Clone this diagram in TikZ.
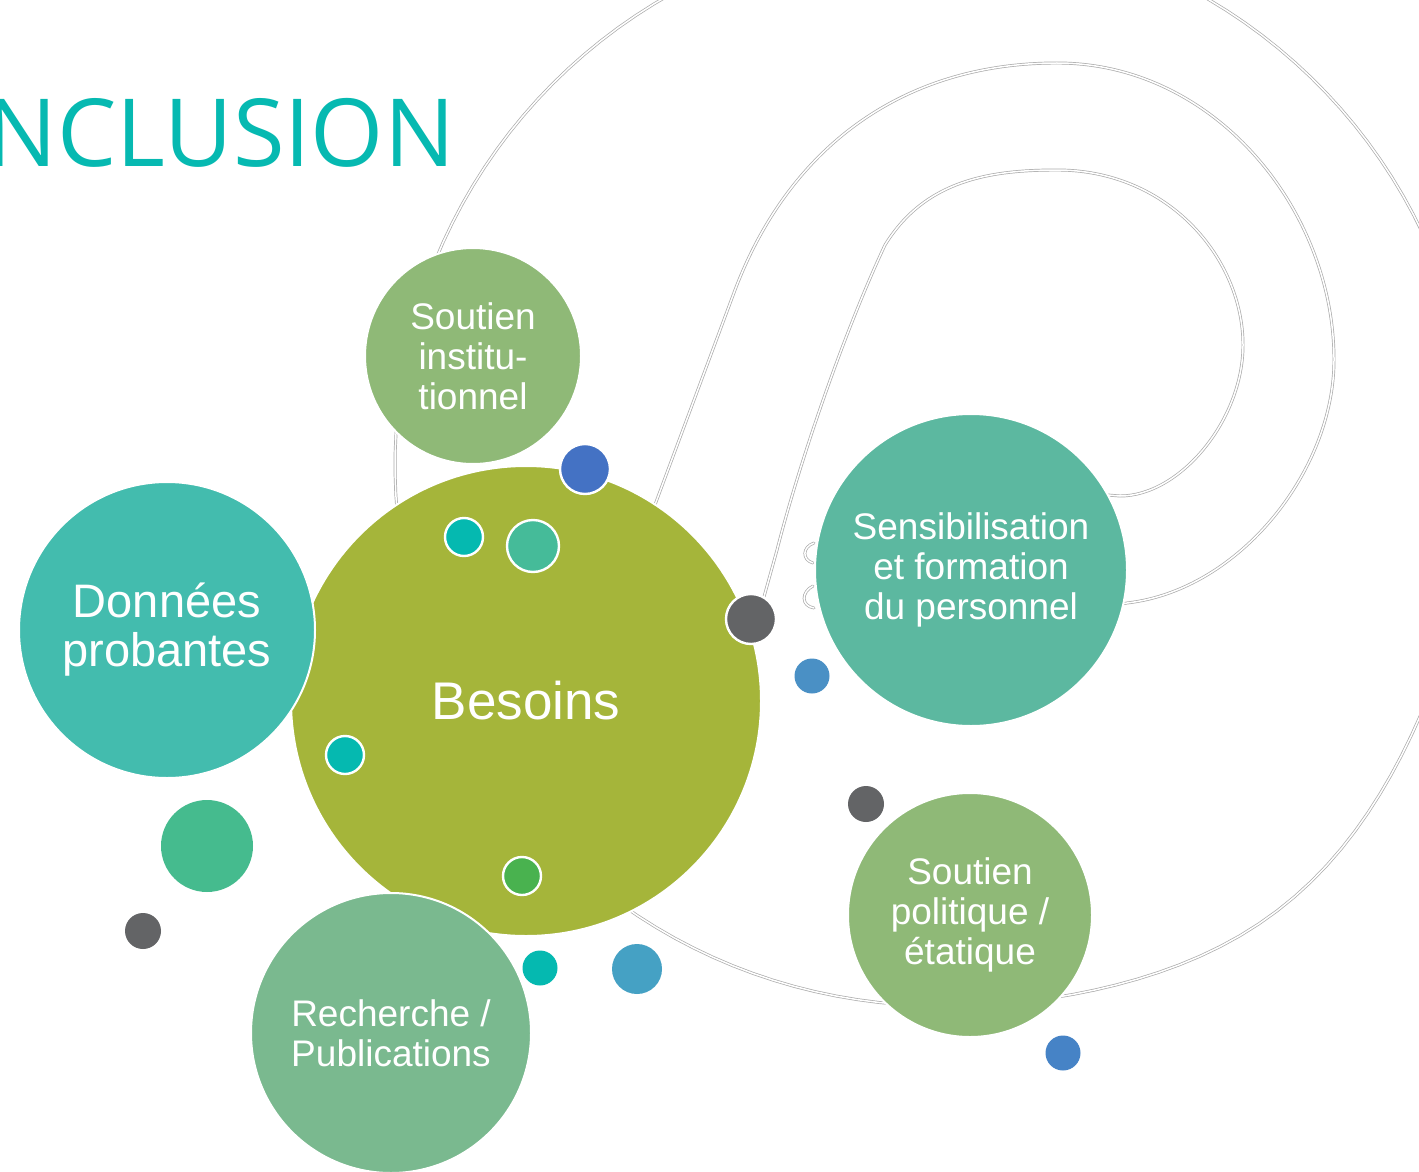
\documentclass[tikz,border=0pt]{standalone}
\usepackage{fontspec}
\setmainfont{Liberation Sans}
\newfontfamily\titlefont{Open Sans}

\definecolor{titleteal}{HTML}{06B9B1}
\definecolor{besoinsfill}{HTML}{A5B53A}
\definecolor{donneesfill}{HTML}{43BCAE}
\definecolor{instfill}{HTML}{8FB977}
\definecolor{sensifill}{HTML}{5CB8A0}
\definecolor{recherchefill}{HTML}{7AB98F}
\definecolor{dotblue}{HTML}{4472C4}
\definecolor{dotteal}{HTML}{05B9B0}
\definecolor{dotmint}{HTML}{45BB99}
\definecolor{dotgray}{HTML}{636466}
\definecolor{dotsky}{HTML}{4A90C5}
\definecolor{dotgreen}{HTML}{49B24F}
\definecolor{dotbigmint}{HTML}{45BB8E}
\definecolor{dotcyan}{HTML}{45A1C4}
\definecolor{dotnavy}{HTML}{4683C6}
\definecolor{spiralgray}{HTML}{ABABAB}

\tikzset{
  incl/.style={
    x=0.5pt, y=-0.5pt,
    line join=round,
    line cap=round,
  },
  spiral/.style={
    draw=spiralgray,
    double=white,
    line width=0.35pt,
    double distance=0.75pt,
  },
  bubble/.style 2 args={
    circle,
    fill=#1,
    draw=white,
    line width=1pt,
    minimum size=#2,
    inner sep=0pt,
    text=white,
    align=center,
    font=\fontsize{18.5}{20}\selectfont,
  },
  bead/.style 2 args={
    circle,
    fill=#1,
    minimum size=#2,
    inner sep=0pt,
  },
  ringbead/.style 2 args={bead={#1}{#2}, draw=white, line width=1.2pt},
}

\begin{document}
\begin{tikzpicture}[incl]
  \useasboundingbox (0,0) rectangle (1419,1172);
  \clip (0,0) rectangle (1419,1172);
  \fill[white] (0,0) rectangle (1419,1172);

  % spiral in the background: outer turn, then the two inner ones
  \draw[spiral] plot[domain=128:-190, samples=140, variable=\t]
    ({935+(540+22*exp(-min(20,((\t-52)/22)*((\t-52)/22))))*cos(\t)},
     {465+(540+22*exp(-min(20,((\t-52)/22)*((\t-52)/22))))*sin(\t)});
  \draw[spiral] (640,545) -- (735,290)
    .. controls (788,150) and (900,63) .. (1057,63)
    .. controls (1215,63) and (1334,210) .. (1334,360)
    .. controls (1334,470) and (1240,590) .. (1127,603) -- (1100,608);
  \draw[spiral] (757,622) -- (777,550)
    .. controls (800,460) and (845,330) .. (885,245)
    .. controls (925,180) and (990,170) .. (1057,170)
    .. controls (1170,170) and (1243,260) .. (1243,345)
    .. controls (1243,420) and (1180,496) .. (1120,496) -- (1095,494);
  \draw[spiral] (814,543) .. controls (802,547) and (802,560) .. (813,563);
  \draw[spiral] (813,586) .. controls (801,592) and (801,606) .. (814,608);

  \node[anchor=base east, text=titleteal,
        font=\titlefont\fontsize{47}{47}\selectfont] (titre) at (462,167)
    {INCLUSION};

  \node[bubble={besoinsfill}{235pt}, font=\fontsize{26.5}{30}\selectfont]
    (besoins) at (526,701) {Besoins};
  \node[bubble={donneesfill}{148pt}, font=\fontsize{23.5}{24.5}\selectfont]
    (donnees) at (167,630) {Données\\probantes};
  \node[bubble={instfill}{108pt}] (soutieninst) at (473,356)
    {Soutien\\institu-\\tionnel};
  \node[bubble={sensifill}{156pt}] (sensib) at (971,570)
    {Sensibilisation\\et formation\\du personnel};
  \node[bubble={instfill}{122pt}] (soutienpol) at (970,915)
    {Soutien\\politique /\\étatique};
  \node[bubble={recherchefill}{140pt}] (recherche) at (391,1033)
    {Recherche /\\Publications};

  % small dots, white ring
  \foreach \px/\py/\rad/\col [count=\k] in {
      585/469/25/dotblue, 464/537/19/dotteal, 533/546/26/dotmint,
      751/619/25/dotgray, 345/755/19/dotteal, 522/876/19/dotgreen}
    \node[ringbead={\col}{\rad pt}] (ring\k) at (\px,\py) {};

  % small dots, plain
  \foreach \px/\py/\rad/\col [count=\k] in {
      812/676/17.5/dotsky, 207/846/46/dotbigmint, 143/931/18/dotgray,
      540/968/17.5/dotteal, 637/969/25/dotcyan, 866/804/18/dotgray,
      1063/1053/17.5/dotnavy}
    \node[bead={\col}{\rad pt}] (dot\k) at (\px,\py) {};
\end{tikzpicture}
\end{document}
